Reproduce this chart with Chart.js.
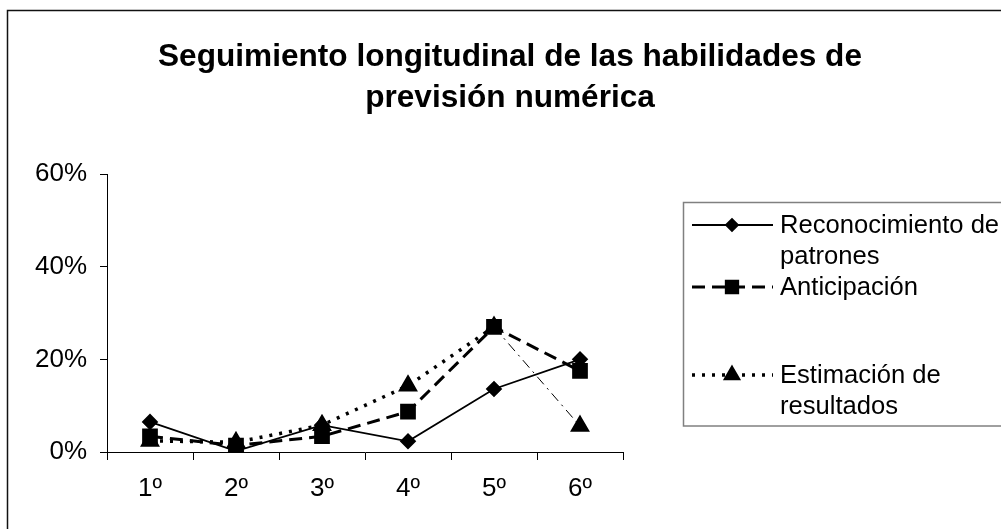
<!DOCTYPE html>
<html>
<head>
<meta charset="utf-8">
<script src="https://cdn.jsdelivr.net/npm/chart.js@4/dist/chart.umd.min.js"></script>
<style>
  body { margin: 0; background: #fff; }
</style>
</head>
<body>
<canvas id="myChart" width="1001" height="529"></canvas>
<script>
var cursos = ['1º', '2º', '3º', '4º', '5º', '6º'];
var reconocimiento = [6.5, 0.2, 5.8, 2.3, 13.6, 20];
var anticipacion = [3.4, 1.4, 3.4, 8.7, 27, 17.5];
var estimacion = [2.4, 2.1, 5.8, 14.3, 27, 5.6];
var yTicks = [0, 20, 40, 60];

var titulo = ['Seguimiento longitudinal de las habilidades de', 'previsión numérica'];
var FONT = "'Liberation Sans', Arial, sans-serif";

// frame, title and the two-line legend of the original are drawn by hand
var decoPlugin = {
    id: 'deco',
    afterDraw: function (chart) {
        var ctx = chart.ctx;
        ctx.save();
        // outer frame
        ctx.strokeStyle = '#111';
        ctx.lineWidth = 1.5;
        ctx.strokeRect(7.5, 10.5, 1010, 530);

        // title
        ctx.fillStyle = '#000';
        ctx.font = 'bold 31.6px ' + FONT;
        ctx.textAlign = 'center';
        ctx.textBaseline = 'alphabetic';
        ctx.fillText(titulo[0], 510, 66);
        ctx.fillText(titulo[1], 510, 107);

        // legend box
        ctx.strokeStyle = '#808080';
        ctx.lineWidth = 1.5;
        ctx.strokeRect(683.5, 202.5, 400, 223.5);

        var rowsY = [225, 287, 375];
        ctx.font = '25.6px ' + FONT;
        ctx.textAlign = 'left';
        ctx.textBaseline = 'middle';
        chart.data.datasets.forEach(function (ds, i) {
            var y = rowsY[i];
            ctx.save();
            ctx.strokeStyle = '#000';
            ctx.lineWidth = ds.borderWidth;
            ctx.setLineDash(ds.borderDash || []);
            ctx.beginPath();
            ctx.moveTo(692, y);
            ctx.lineTo(773, y);
            ctx.stroke();
            ctx.setLineDash([]);
            ctx.fillStyle = '#000';
            Chart.helpers.drawPoint(ctx, {
                pointStyle: ds.pointStyle,
                radius: ds.pointRadius - 1,
                rotation: 0,
                borderWidth: 1
            }, 732, y);
            ctx.restore();

            // wrap label
            var words = ds.label.split(' ');
            var lines = [];
            var cur = '';
            words.forEach(function (w) {
                var test = cur ? cur + ' ' + w : w;
                if (ctx.measureText(test).width > 230 && cur) {
                    lines.push(cur);
                    cur = w;
                } else {
                    cur = test;
                }
            });
            lines.push(cur);
            ctx.fillStyle = '#000';
            lines.forEach(function (l, j) {
                ctx.fillText(l, 780, y + 1 + j * 31);
            });
        });
        ctx.restore();
    }
};

var ctx = document.getElementById('myChart').getContext('2d');
var myChart = new Chart(ctx, {
    type: 'line',
    data: {
        labels: cursos,
        datasets: [{
            label: 'Reconocimiento de patrones',
            data: reconocimiento,
            borderColor: '#000',
            backgroundColor: '#000',
            borderWidth: 1.8,
            pointStyle: 'rectRot',
            pointRadius: 7,
            pointBackgroundColor: '#000',
            pointBorderColor: '#000',
            tension: 0
        }, {
            label: 'Anticipación',
            data: anticipacion,
            borderColor: '#000',
            backgroundColor: '#000',
            borderWidth: 3,
            borderDash: [13, 7],
            pointStyle: 'rect',
            pointRadius: 9,
            pointBackgroundColor: '#000',
            pointBorderColor: '#000',
            tension: 0
        }, {
            label: 'Estimación de resultados',
            data: estimacion,
            borderColor: '#000',
            backgroundColor: '#000',
            borderWidth: 3.5,
            borderDash: [3, 7],
            pointStyle: 'triangle',
            pointRadius: 8,
            pointBackgroundColor: '#000',
            pointBorderColor: '#000',
            tension: 0,
            segment: {
                borderWidth: function (c) { return c.p0DataIndex === 4 ? 1 : undefined; },
                borderDash: function (c) { return c.p0DataIndex === 4 ? [10, 5, 2, 5] : undefined; }
            }
        }]
    },
    options: {
        responsive: false,
        animation: false,
        devicePixelRatio: 1,
        layout: {
            padding: { left: 0, top: 174, right: 378, bottom: 0 }
        },
        scales: {
            x: {
                offset: true,
                grid: {
                    offset: true,
                    drawOnChartArea: false,
                    drawTicks: true,
                    tickLength: 8,
                    color: '#000'
                },
                border: { color: '#000', width: 1 },
                ticks: {
                    color: '#000',
                    font: { family: FONT, size: 26 },
                    padding: 13,
                    maxRotation: 0
                },
                afterFit: function (scale) { scale.height = 77; }
            },
            y: {
                min: 0,
                max: 60,
                afterBuildTicks: function (scale) {
                    scale.ticks = yTicks.map(function (v) { return { value: v }; });
                },
                grid: {
                    drawOnChartArea: false,
                    drawTicks: true,
                    tickLength: 7,
                    color: '#000'
                },
                border: { color: '#000', width: 1 },
                ticks: {
                    color: '#000',
                    font: { family: FONT, size: 26 },
                    padding: 13,
                    callback: function (v) { return v + '%'; }
                },
                afterFit: function (scale) { scale.width = 107; }
            }
        },
        plugins: {
            legend: { display: false },
            title: { display: false },
            tooltip: { enabled: false }
        }
    },
    plugins: [decoPlugin]
});
</script>
</body>
</html>
